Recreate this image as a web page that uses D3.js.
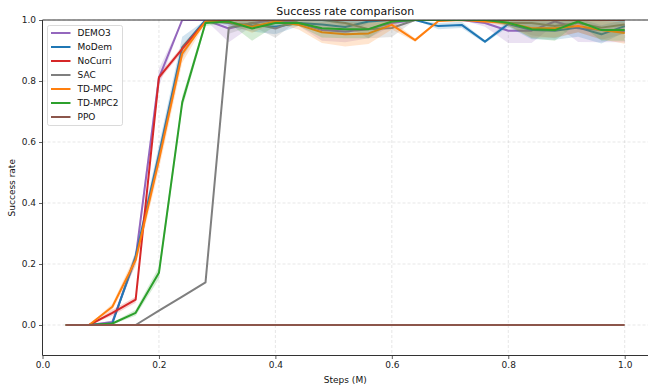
<!DOCTYPE html>
<html>
<head>
<meta charset="utf-8">
<script src="https://cdn.jsdelivr.net/npm/d3@7"></script>
<style>
  html, body { margin: 0; padding: 0; background: #fff; }
  svg { display: block; font-family: "DejaVu Sans", sans-serif; }
</style>
</head>
<body>
<svg id="chart" width="649" height="388"></svg>
<script>
const steps = [0.04,0.08,0.12,0.16,0.20,0.24,0.28,0.32,0.36,0.40,0.44,0.48,0.52,0.56,0.60,0.64,0.68,0.72,0.76,0.80,0.84,0.88,0.92,0.96,1.00];
const seriesNames = ["DEMO3","MoDem","NoCurri","SAC","TD-MPC","TD-MPC2","PPO"];
const seriesColors = ["#9467bd","#1f77b4","#d62728","#7f7f7f","#ff7f0e","#2ca02c","#8c564b"];

const demo3 =   [0,0,0.01,0.22,0.81,1.0,1.0,0.972,0.99,1.0,0.99,0.967,0.962,0.97,0.99,1.0,1.0,1.0,0.99,0.965,0.965,0.995,0.973,0.967,0.962];
const modem =   [0,0,0.005,0.225,0.56,0.91,1.0,0.99,0.982,0.978,0.99,0.985,0.977,0.995,1.0,1.0,0.98,0.984,0.929,0.987,0.967,0.965,0.975,0.953,0.98];
const nocurri = [0,0,0.04,0.083,0.812,0.905,0.995,1.0,1.0,1.0,1.0,1.0,1.0,1.0,1.0,1.0,1.0,1.0,1.0,1.0,1.0,1.0,1.0,1.0,1.0];
const sac =     [0,0,0,0,0.047,0.093,0.14,0.975,0.99,0.972,1.0,1.0,0.99,0.97,0.974,1.0,1.0,1.0,1.0,0.99,0.99,0.98,0.99,0.975,0.985];
const tdmpc =   [0,0,0.06,0.213,0.54,0.89,0.995,0.993,0.978,0.995,0.984,0.96,0.953,0.956,0.984,0.934,0.997,1.0,0.995,0.99,0.973,0.973,0.98,0.967,0.957];
const tdmpc2 =  [0,0,0.005,0.04,0.171,0.73,0.99,0.995,0.972,0.99,0.99,0.973,0.97,0.97,0.995,1.0,1.0,1.0,1.0,0.991,0.97,0.967,0.995,0.967,0.967];
const ppo =     [0,0,0,0,0,0,0,0,0,0,0,0,0,0,0,0,0,0,0,0,0,0,0,0,0];

const demo3Std =   [0,0,0.005,0.02,0.03,0,0,0.045,0.01,0,0.01,0.035,0.035,0.03,0.01,0,0,0,0.012,0.04,0.04,0.01,0.045,0.04,0.035];
const modemStd =   [0,0,0.003,0.02,0.03,0.035,0,0.01,0.02,0.025,0.01,0.015,0.025,0.005,0,0,0.01,0.01,0.005,0.01,0.03,0.03,0.03,0.03,0.02];
const nocurriStd = [0,0,0.01,0.01,0.01,0.01,0,0,0,0,0,0,0,0,0,0,0,0,0,0,0,0,0,0,0];
const sacStd =     [0,0,0,0,0,0,0,0.02,0.01,0.03,0,0,0.01,0.03,0.03,0,0,0,0,0.01,0.04,0.04,0.03,0.04,0.03];
const tdmpcStd =   [0,0,0.01,0.02,0.03,0.03,0.005,0.005,0.02,0.005,0.015,0.035,0.04,0.035,0.015,0.005,0.003,0,0.005,0.01,0.03,0.03,0.02,0.03,0.035];
const tdmpc2Std =  [0,0,0.003,0.01,0.02,0.02,0.01,0.005,0.04,0.01,0.01,0.03,0.03,0.03,0.005,0,0,0,0,0.01,0.03,0.035,0.005,0.035,0.035];
const ppoStd =     [0,0,0,0,0,0,0,0,0,0,0,0,0,0,0,0,0,0,0,0,0,0,0,0,0];

const seriesValues = [demo3, modem, nocurri, sac, tdmpc, tdmpc2, ppo];
const seriesStd = [demo3Std, modemStd, nocurriStd, sacStd, tdmpcStd, tdmpc2Std, ppoStd];

const xTicks = [0, 0.2, 0.4, 0.6, 0.8, 1.0];
const yTicks = [0, 0.2, 0.4, 0.6, 0.8, 1.0];
const titleText = "Success rate comparison";
const xLabel = "Steps (M)";
const yLabel = "Success rate";

(function () {
const svg = d3.select("#chart");
const pL = 42.5, pR = 648, pT = 20, pB = 355.5;
const x = d3.scaleLinear().domain([0, 1.04]).range([pL, pR]);
const y = d3.scaleLinear().domain([-0.1, 1.0]).range([pB, pT]);

svg.append("defs").append("clipPath").attr("id","clip")
  .append("rect").attr("x", pL).attr("y", pT).attr("width", pR-pL).attr("height", pB-pT);

const grid = svg.append("g");
grid.selectAll("line.gx").data(xTicks).enter().append("line")
  .attr("x1", d => x(d)).attr("x2", d => x(d)).attr("y1", pT).attr("y2", pB)
  .attr("stroke", "#b0b0b0").attr("stroke-opacity", 0.4).attr("stroke-width", 0.8).attr("stroke-dasharray", "3,2");
grid.selectAll("line.gy").data(yTicks).enter().append("line")
  .attr("y1", d => y(d)).attr("y2", d => y(d)).attr("x1", pL).attr("x2", pR)
  .attr("stroke", "#b0b0b0").attr("stroke-opacity", 0.4).attr("stroke-width", 0.8).attr("stroke-dasharray", "3,2");

const plot = svg.append("g").attr("clip-path", "url(#clip)");
seriesNames.forEach((name, i) => {
  const vals = seriesValues[i], sd = seriesStd[i];
  const pts = steps.map((s, j) => ({s, v: vals[j], sd: sd[j]}));
  const area = d3.area().x(d => x(d.s)).y0(d => y(d.v - d.sd)).y1(d => y(d.v + d.sd));
  plot.append("path").datum(pts).attr("d", area).attr("fill", seriesColors[i]).attr("fill-opacity", 0.2).attr("stroke", "none");
  const line = d3.line().x(d => x(d.s)).y(d => y(d.v));
  plot.append("path").datum(pts).attr("d", line).attr("fill", "none")
    .attr("stroke", seriesColors[i]).attr("stroke-width", 2).attr("stroke-linejoin", "round");
});

const xAxis = d3.axisBottom(x).tickValues(xTicks).tickFormat(d3.format(".1f")).tickSize(3.5).tickPadding(3);
const yAxis = d3.axisLeft(y).tickValues(yTicks).tickFormat(d3.format(".1f")).tickSize(3.5).tickPadding(3);
const gx = svg.append("g").attr("transform", `translate(0,${pB})`).call(xAxis);
const gy = svg.append("g").attr("transform", `translate(${pL},0)`).call(yAxis);
[gx, gy].forEach(g => {
  g.select(".domain").remove();
  g.selectAll("text").attr("font-size", "9px").attr("fill", "#222").attr("font-family", "DejaVu Sans");
  g.selectAll("line").attr("stroke", "#333").attr("stroke-width", 0.8);
});
svg.append("line").attr("x1", pL).attr("x2", pL).attr("y1", pT).attr("y2", pB).attr("stroke", "#333").attr("stroke-width", 1);
svg.append("line").attr("x1", pL).attr("x2", pR).attr("y1", pB).attr("y2", pB).attr("stroke", "#333").attr("stroke-width", 1);
svg.append("line").attr("x1", pL).attr("x2", pR).attr("y1", pT).attr("y2", pT).attr("stroke", "#333").attr("stroke-width", 1);

svg.append("text").attr("x", (pL+pR)/2).attr("y", 15).attr("text-anchor", "middle")
  .attr("font-size", "11px").attr("fill", "#111").text(titleText);
svg.append("text").attr("x", (pL+pR)/2).attr("y", 383).attr("text-anchor", "middle")
  .attr("font-size", "9px").attr("fill", "#111").text(xLabel);
svg.append("text").attr("transform", `translate(15,${(pT+pB)/2}) rotate(-90)`).attr("text-anchor", "middle")
  .attr("font-size", "9px").attr("fill", "#111").text(yLabel);

const lg = svg.append("g");
lg.append("rect").attr("x", 47.5).attr("y", 25.5).attr("width", 75).attr("height", 100).attr("rx", 2)
  .attr("fill", "#fff").attr("fill-opacity", 0.8).attr("stroke", "#d0d0d0").attr("stroke-width", 0.8);
seriesNames.forEach((name, i) => {
  const yy = 33 + i * 14;
  lg.append("line").attr("x1", 51).attr("x2", 70.5).attr("y1", yy).attr("y2", yy)
    .attr("stroke", seriesColors[i]).attr("stroke-width", 2);
  lg.append("text").attr("x", 77.5).attr("y", yy + 3.3).attr("font-size", "9px").attr("fill", "#111").text(name);
});
})();
</script>
</body>
</html>
